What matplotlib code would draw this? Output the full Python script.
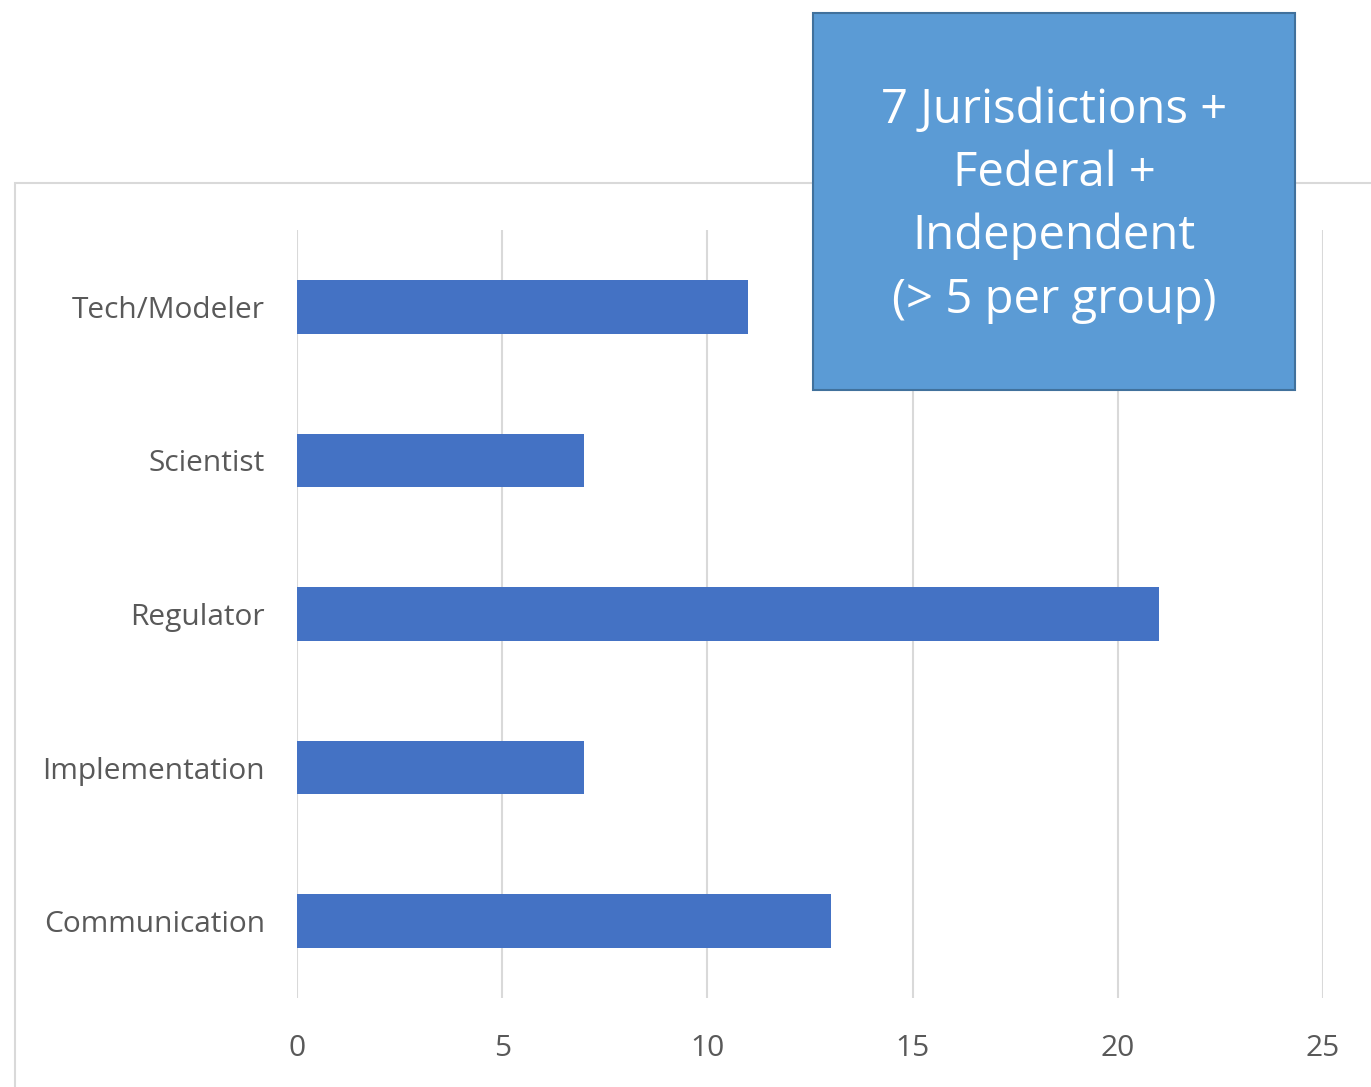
import matplotlib
matplotlib.use("Agg")
import matplotlib.pyplot as plt
from matplotlib.patches import Rectangle

categories = ["Tech/Modeler", "Scientist", "Regulator", "Implementation", "Communication"]
values = [11, 7, 21, 7, 13]
xticks = [0, 5, 10, 15, 20, 25]
box_text = "7 Jurisdictions +\nFederal +\nIndependent\n(> 5 per group)"

W, H = 1371, 1087
fig = plt.figure(figsize=(W / 100, H / 100), dpi=100)
fig.patch.set_facecolor("white")

# outer chart frame
fig.add_artist(Rectangle((15 / W, 0 - 0.01), 1.02 - 15 / W, 1 - 183 / H + 0.01,
                         transform=fig.transFigure, fill=False,
                         edgecolor="#D9D9D9", lw=1.5, zorder=0))

ax = fig.add_axes([297 / W, 1 - 998 / H, (1323 - 297) / W, (998 - 230) / H])
ax.barh(range(len(categories)), values, height=0.35, color="#4472C4", zorder=3)
ax.set_xlim(0, 25)
ax.set_ylim(len(categories) - 0.5, -0.5)
ax.set_xticks(xticks)
ax.set_xticklabels([str(t) for t in xticks])
ax.set_yticks(range(len(categories)))
ax.set_yticklabels(categories)
for s in ax.spines.values():
    s.set_visible(False)
ax.grid(axis="x", color="#D9D9D9", lw=1.5, zorder=0)
ax.tick_params(axis="both", length=0, colors="#595959", labelsize=21.5)
ax.tick_params(axis="y", pad=23)
ax.tick_params(axis="x", pad=26)
for lab in ax.get_xticklabels() + ax.get_yticklabels():
    lab.set_fontfamily("Open Sans")

# text box
bx0, by0, bx1, by1 = 813, 13, 1295, 390
fig.add_artist(Rectangle((bx0 / W, 1 - by1 / H), (bx1 - bx0) / W, (by1 - by0) / H,
                         transform=fig.transFigure, facecolor="#5B9BD5",
                         edgecolor="#41719C", lw=1.5, zorder=10))
fig.text((bx0 + bx1) / 2 / W, 1 - 205 / H, box_text, ha="center", va="center",
         color="white", fontsize=34, family="Open Sans", linespacing=1.43, zorder=11)

fig.savefig("out.png", dpi=100, facecolor="white")
